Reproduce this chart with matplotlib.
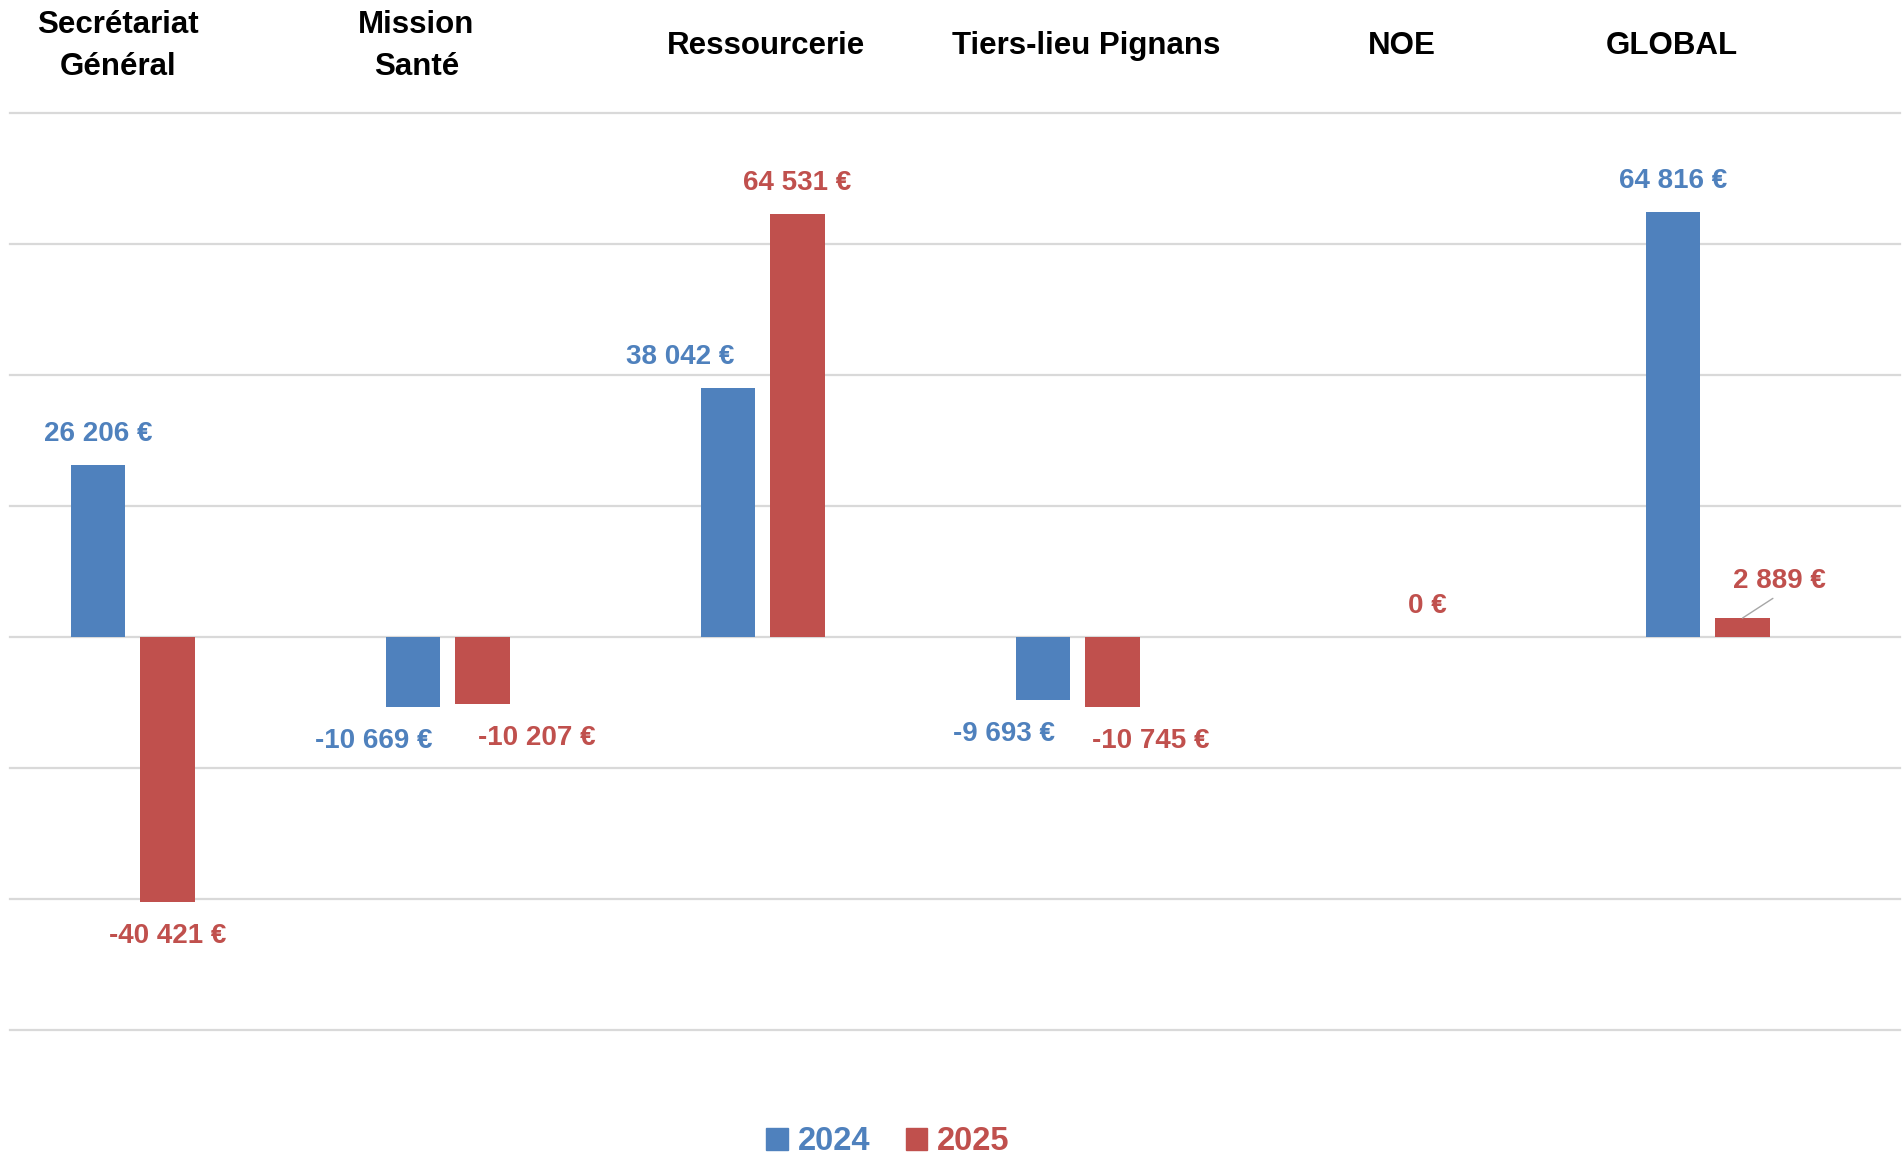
import numpy as np
import matplotlib.pyplot as plt
from matplotlib.patches import Patch
from matplotlib.transforms import blended_transform_factory

# data
categories = ["Secrétariat\nGénéral", "Mission\nSanté", "Ressourcerie",
              "Tiers-lieu Pignans", "NOE", "GLOBAL"]
years = ["2024", "2025"]
vals_2024 = [26206, -10669, 38042, -9693, np.nan, 64816]
vals_2025 = [-40421, -10207, 64531, -10745, 0, 2889]

blue = "#4F81BD"
red = "#C0504D"

# label placement tweaks (pixels), like the hand-moved labels of the original
nudge_2024 = [0, -39, -48, -39, 0, 0]
nudge_2025 = [0, 54, 0, 38, 0, 37]
cat_shift = [-0.157, -0.21, -0.10, -0.085, -0.083, -0.225]

plt.rcParams['font.family'] = ['Liberation Sans', 'DejaVu Sans']


def fmt(v):
    return "{:,}".format(int(v)).replace(",", " ") + " €"


fig = plt.figure(figsize=(19.03, 11.56), dpi=100)
ax = fig.add_axes([10/1903, 1-1030/1156, 1890/1903, 917/1156])

x = np.arange(len(categories))
w = 0.173
ax.bar(x - 0.221, vals_2024, w, color=blue, zorder=2)
ax.bar(x, vals_2025, w, color=red, zorder=2)

ax.set_xlim(-0.5, len(categories) - 0.5)
ax.set_ylim(-60000, 80000)
ax.set_yticks(np.arange(-60000, 80001, 20000))
ax.set_xticks([])
ax.set_yticklabels([])
ax.tick_params(length=0)
ax.yaxis.grid(True, color="#D9D9D9", lw=1.6)
for gl in ax.get_ygridlines():
    gl.set_clip_on(False)
ax.set_axisbelow(True)
for s in ax.spines.values():
    s.set_visible(False)


def put_labels(xs, vals, color, nudges):
    for xi, v, dx in zip(xs, vals, nudges):
        if np.isnan(v):
            continue
        dy = 31 if v >= 0 else -34
        ax.annotate(fmt(v), (xi, v), xytext=(dx, dy), textcoords="offset pixels",
                    ha="center", va="center", color=color, fontsize=20, fontweight="bold")


put_labels(x - 0.221, vals_2024, blue, nudge_2024)
# last red label sits off the bar with a leader line
put_labels(x[:-1], vals_2025[:-1], red, nudge_2025[:-1])
ax.annotate(fmt(vals_2025[-1]), (x[-1], vals_2025[-1]), xytext=(nudge_2025[-1], 37),
            textcoords="offset pixels", ha="center", va="center", color=red,
            fontsize=20, fontweight="bold",
            arrowprops=dict(arrowstyle="-", color="#A6A6A6", lw=1, relpos=(0.5, 0),
                            shrinkA=2, shrinkB=0))

trans = blended_transform_factory(ax.transData, ax.transAxes)
for xi, sh, name in zip(x, cat_shift, categories):
    ax.annotate(name, (xi + sh, 1), xycoords=trans, xytext=(0, 67), textcoords="offset pixels",
                ha="center", va="center", fontsize=22.5, fontweight="bold",
                linespacing=1.55, annotation_clip=False)

handles = [Patch(color=blue, label=years[0]), Patch(color=red, label=years[1])]
leg = fig.legend(handles=handles, loc="center", bbox_to_anchor=(888/1903, 1-1142/1156),
                 ncol=2, frameon=False, prop=dict(size=23.5, weight="bold"),
                 handlelength=0.66, handleheight=0.66, handletextpad=0.3, columnspacing=1.1)
for t, c in zip(leg.get_texts(), [blue, red]):
    t.set_color(c)

fig.savefig("out.png", dpi=100)
